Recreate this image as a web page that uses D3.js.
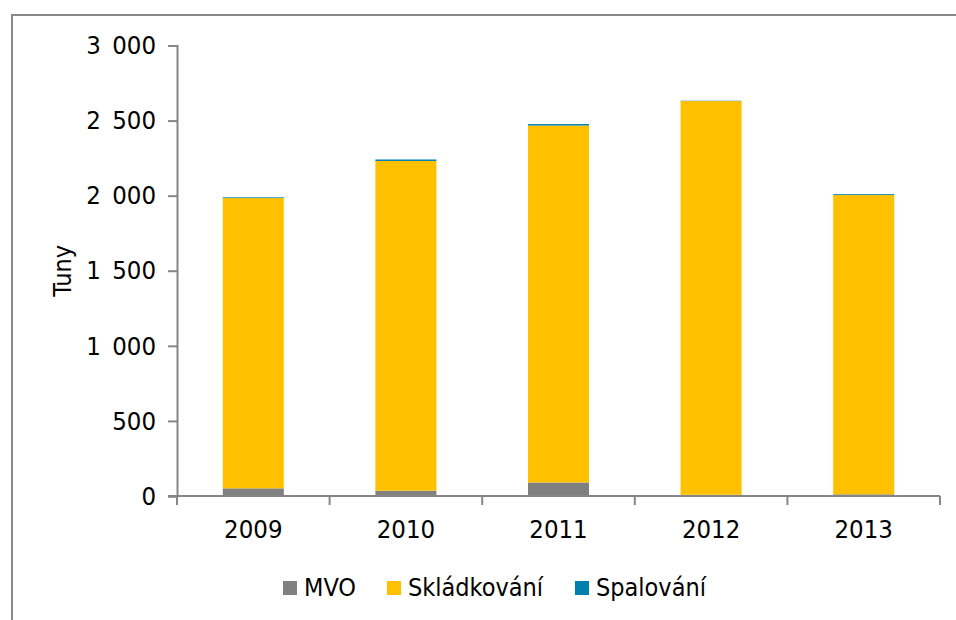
<!DOCTYPE html>
<html>
<head>
<meta charset="utf-8">
<script src="https://cdn.jsdelivr.net/npm/d3@7"></script>
<style>
  html, body { margin: 0; padding: 0; background: #fff; }
  svg { display: block; }
  text { font-family: Tahoma, "DejaVu Sans Condensed", "DejaVu Sans", sans-serif; fill: #000; }
</style>
</head>
<body>
<svg id="chart" width="956" height="620"></svg>
<script>
// Nakládání s odpady v letech 2009–2013 (tuny)
const years = ["2009", "2010", "2011", "2012", "2013"];
const seriesNames = ["MVO", "Skládkování", "Spalování"];
const mvo = [51, 35, 90, 8, 11];
const skladkovani = [1933, 2196, 2377, 2622, 1993];
const spalovani = [5, 10, 10, 2, 6];
const colors = ["#808080", "#FFC000", "#0081AD"];
const yTicks = [0, 500, 1000, 1500, 2000, 2500, 3000];
const yLabel = "Tuny";

const fontStack = 'Tahoma, "DejaVu Sans Condensed", "DejaVu Sans", sans-serif';
const svg = d3.select("#chart");

// chart frame (runs off the right and bottom edges)
svg.append("rect")
  .attr("x", 12).attr("y", 15)
  .attr("width", 1000).attr("height", 700)
  .attr("fill", "#fff")
  .attr("stroke", "#898989")
  .attr("stroke-width", 2);

const plot = { left: 177, right: 940, top: 45.5, bottom: 496 };

const x = d3.scaleBand()
  .domain(years)
  .range([plot.left, plot.right])
  .paddingInner(0.6)
  .paddingOuter(0.3);

const y = d3.scaleLinear()
  .domain([0, 3000])
  .range([plot.bottom, plot.top]);

const rows = years.map((yr, i) => ({
  year: yr,
  "MVO": mvo[i],
  "Skládkování": skladkovani[i],
  "Spalování": spalovani[i]
}));

const stacked = d3.stack().keys(seriesNames)(rows);

const g = svg.append("g");
g.selectAll("g.series")
  .data(stacked)
  .join("g")
  .attr("class", "series")
  .attr("fill", (d, i) => colors[i])
  .selectAll("rect")
  .data(d => d)
  .join("rect")
  .attr("x", d => x(d.data.year))
  .attr("width", x.bandwidth())
  .attr("y", d => y(d[1]))
  .attr("height", d => y(d[0]) - y(d[1]));

// thousands separated by an en space
const fmt = v => d3.format(",")(v).replace(/,/g, "\u2002");
const axisColor = "#868686";

// y axis
const yAxis = svg.append("g")
  .attr("transform", `translate(${plot.left},0)`)
  .call(d3.axisLeft(y).tickValues(yTicks).tickFormat(fmt).tickSize(9).tickPadding(12));
yAxis.select(".domain").attr("stroke", axisColor).attr("stroke-width", 2);
yAxis.selectAll(".tick line").attr("stroke", axisColor).attr("stroke-width", 2);
yAxis.selectAll(".tick text")
  .attr("font-size", 25.5)
  .attr("font-family", fontStack)
  .attr("fill", "#000");

// x axis: category labels, with ticks at band boundaries
const xAxis = svg.append("g")
  .attr("transform", `translate(0,${plot.bottom})`)
  .call(d3.axisBottom(x).tickSize(0).tickPadding(24));
xAxis.select(".domain").remove();
xAxis.selectAll(".tick text")
  .attr("font-size", 25.5)
  .attr("font-family", fontStack)
  .attr("fill", "#000");

const step = x.step();
const bounds = d3.range(years.length + 1).map(i => plot.left + i * step);
svg.append("line")
  .attr("x1", plot.left - 9).attr("x2", plot.right)
  .attr("y1", plot.bottom).attr("y2", plot.bottom)
  .attr("stroke", axisColor).attr("stroke-width", 2);
svg.selectAll("line.xtick")
  .data(bounds)
  .join("line")
  .attr("class", "xtick")
  .attr("x1", d => d).attr("x2", d => d)
  .attr("y1", plot.bottom).attr("y2", plot.bottom + 9)
  .attr("stroke", axisColor).attr("stroke-width", 2);

// y axis title
svg.append("text")
  .attr("transform", `translate(71,${(plot.top + plot.bottom) / 2}) rotate(-90)`)
  .attr("text-anchor", "middle")
  .attr("font-size", 25)
  .text(yLabel);

// legend
const legendX = [283, 387, 575];
const legend = svg.append("g");
seriesNames.forEach((name, i) => {
  legend.append("rect")
    .attr("x", legendX[i]).attr("y", 581)
    .attr("width", 14).attr("height", 14)
    .attr("fill", colors[i]);
  legend.append("text")
    .attr("x", legendX[i] + 21).attr("y", 596)
    .attr("font-size", 25)
    .text(name);
});
</script>
</body>
</html>
